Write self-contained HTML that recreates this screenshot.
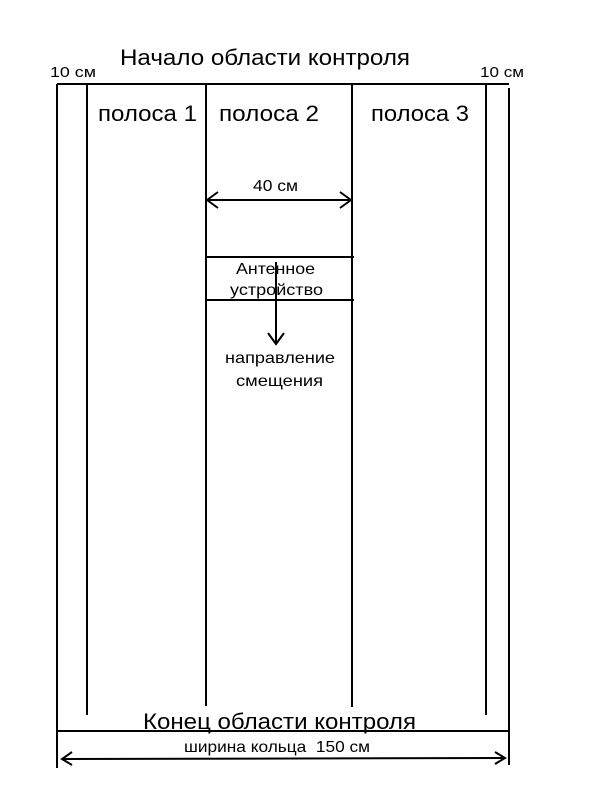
<!DOCTYPE html>
<html><head><meta charset="utf-8"><style>
body{margin:0;background:#fff}
svg text{font-family:"Liberation Sans",sans-serif;fill:#000}
</style></head><body>
<svg width="600" height="800" xmlns="http://www.w3.org/2000/svg">
<rect width="600" height="800" fill="#fff"/>
<g stroke="#000" stroke-width="2" fill="none">
<line x1="57" y1="84" x2="509" y2="84"/>
<line x1="57" y1="84" x2="57" y2="768"/>
<line x1="509" y1="88" x2="509" y2="765"/>
<line x1="57" y1="731" x2="509" y2="731"/>
<line x1="87" y1="84" x2="87" y2="715"/>
<line x1="206" y1="84" x2="206" y2="706"/>
<line x1="352" y1="84" x2="352" y2="707"/>
<line x1="486" y1="84" x2="486" y2="715"/>
<line x1="206" y1="200" x2="352" y2="200"/>
<polyline points="218,192 207,200 218,208"/>
<polyline points="340,192 351,200 340,208"/>
<line x1="206" y1="257" x2="354" y2="257"/>
<line x1="206" y1="300" x2="354" y2="300"/>
<line x1="276" y1="262" x2="276" y2="344"/>
<polyline points="268,333 276,344 284,333"/>
<line x1="62" y1="759" x2="505" y2="758"/>
<polyline points="72,752 62,759 72,765"/>
<polyline points="495,752 505,758 495,764"/>
</g>
<text x="120" y="65" font-size="22" textLength="290" lengthAdjust="spacingAndGlyphs">Начало области контроля</text>
<text x="50" y="77" font-size="15" textLength="46" lengthAdjust="spacingAndGlyphs">10 см</text>
<text x="480" y="77" font-size="15" textLength="44" lengthAdjust="spacingAndGlyphs">10 см</text>
<text x="98" y="121" font-size="22" textLength="99" lengthAdjust="spacingAndGlyphs">полоса 1</text>
<text x="219" y="121" font-size="22" textLength="100" lengthAdjust="spacingAndGlyphs">полоса 2</text>
<text x="371" y="121" font-size="22" textLength="98" lengthAdjust="spacingAndGlyphs">полоса 3</text>
<text x="253" y="191" font-size="16" textLength="45" lengthAdjust="spacingAndGlyphs">40 см</text>
<text x="236" y="274" font-size="16" textLength="79" lengthAdjust="spacingAndGlyphs">Антенное</text>
<text x="230" y="295" font-size="16" textLength="93" lengthAdjust="spacingAndGlyphs">устройство</text>
<text x="225" y="363" font-size="16" textLength="110" lengthAdjust="spacingAndGlyphs">направление</text>
<text x="236" y="386" font-size="16" textLength="87" lengthAdjust="spacingAndGlyphs">смещения</text>
<text x="143" y="729" font-size="22" textLength="273" lengthAdjust="spacingAndGlyphs">Конец области контроля</text>
<text x="184" y="752" font-size="16" textLength="186" lengthAdjust="spacingAndGlyphs">ширина кольца&#160; 150 см</text>
</svg>
</body></html>
